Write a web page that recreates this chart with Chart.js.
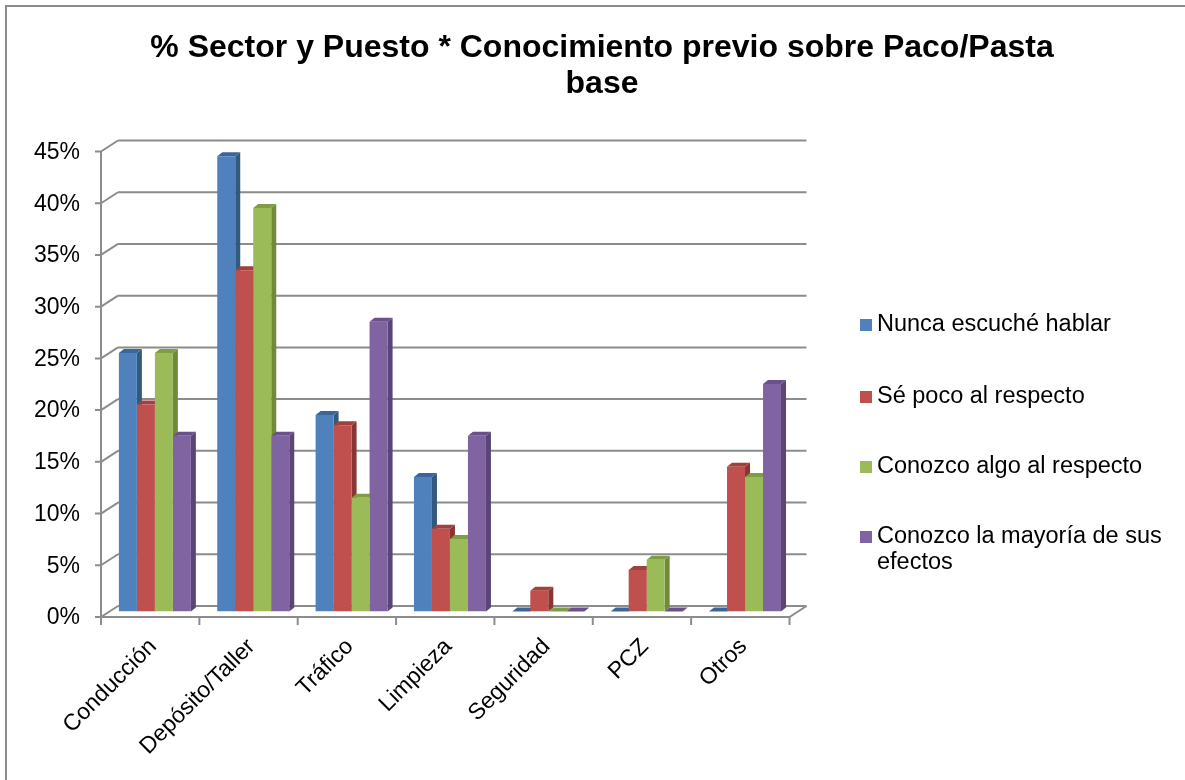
<!DOCTYPE html>
<html>
<head>
<meta charset="utf-8">
<script src="https://cdn.jsdelivr.net/npm/chart.js@4/dist/chart.umd.min.js"></script>
<style>
  html, body { margin: 0; padding: 0; background: #fff; }
  #wrap { position: relative; width: 1185px; height: 780px; }
</style>
</head>
<body>
<div id="wrap"><canvas id="chart" width="1185" height="780"></canvas></div>
<script>
const sectores = ['Conducción', 'Depósito/Taller', 'Tráfico', 'Limpieza', 'Seguridad', 'PCZ', 'Otros'];
const nuncaEscuche = [25, 44, 19, 13, 0, 0, 0];
const sePoco = [20, 33, 18, 8, 2, 4, 14];
const conozcoAlgo = [25, 39, 11, 7, 0, 5, 13];
const conozcoMayoria = [17, 17, 28, 17, 0, 0, 22];
const yTicks = [0, 5, 10, 15, 20, 25, 30, 35, 40, 45];

const series = [
  { label: 'Nunca escuché hablar', data: nuncaEscuche, front: '#4F81BD', side: '#34597F', top: '#3C6699' },
  { label: 'Sé poco al respecto', data: sePoco, front: '#C0504D', side: '#8A3533', top: '#A2403D' },
  { label: 'Conozco algo al respecto', data: conozcoAlgo, front: '#9BBB59', side: '#6E8A3A', top: '#7F9D45' },
  { label: 'Conozco la mayoría de sus efectos', data: conozcoMayoria, front: '#8064A2', side: '#594677', top: '#6A5189' }
];

const FONT = 'Arial, "Liberation Sans", sans-serif';
const GRID = '#8C8C8C';
// projection of the walls relative to the plane the bar fronts sit in
const FRONT = { dx: -4.7, dy: 5.5 };
const BACK = { dx: 12.3, dy: -5.5 };
const BAR_DEPTH = { dx: 5, dy: -4 };

const wallsPlugin = {
  id: 'walls',
  beforeDatasetsDraw(chart) {
    const { ctx, chartArea: a, scales: { x, y } } = chart;
    ctx.save();
    ctx.strokeStyle = GRID;
    ctx.lineWidth = 2;
    const fl = a.left + FRONT.dx, fr = a.right + FRONT.dx;
    const bl = a.left + BACK.dx, br = a.right + BACK.dx;

    // back wall gridlines + left wall diagonals + tick marks
    yTicks.forEach((t) => {
      const py = y.getPixelForValue(t);
      ctx.beginPath();
      ctx.moveTo(bl, py + BACK.dy);
      ctx.lineTo(br, py + BACK.dy);
      ctx.moveTo(fl, py + FRONT.dy);
      ctx.lineTo(bl, py + BACK.dy);
      ctx.moveTo(fl - 6, py + FRONT.dy);
      ctx.lineTo(fl, py + FRONT.dy);
      ctx.stroke();
    });

    // front vertical axis
    const y0 = y.getPixelForValue(0), yTop = y.getPixelForValue(45);
    ctx.beginPath();
    ctx.moveTo(fl, yTop + FRONT.dy);
    ctx.lineTo(fl, y0 + FRONT.dy);
    ctx.stroke();

    // floor: front edge and right diagonal
    ctx.beginPath();
    ctx.moveTo(fl, y0 + FRONT.dy);
    ctx.lineTo(fr, y0 + FRONT.dy);
    ctx.lineTo(br, y0 + BACK.dy);
    ctx.stroke();

    // category tick marks on the front floor edge
    const step = (a.right - a.left) / sectores.length;
    for (let i = 0; i <= sectores.length; i++) {
      const px = fl + i * step;
      ctx.beginPath();
      ctx.moveTo(px, y0 + FRONT.dy);
      ctx.lineTo(px, y0 + FRONT.dy + 8);
      ctx.stroke();
    }

    // y tick labels
    ctx.fillStyle = '#000';
    ctx.font = '23px ' + FONT;
    ctx.textAlign = 'right';
    ctx.textBaseline = 'middle';
    yTicks.forEach((t) => {
      ctx.fillText(t + '%', fl - 21, y.getPixelForValue(t) + FRONT.dy + 1);
    });

    // rotated category labels
    ctx.font = '23px ' + FONT;
    sectores.forEach((s, i) => {
      const px = x.getPixelForValue(i) + FRONT.dx + 3;
      ctx.save();
      ctx.translate(px, y0 + FRONT.dy + 26);
      ctx.rotate(-Math.PI / 4);
      ctx.textAlign = 'right';
      ctx.textBaseline = 'middle';
      ctx.fillText(s, 0, 0);
      ctx.restore();
    });

    // sides and tops of the bars, left to right so the fronts overlap correctly
    sectores.forEach((_, i) => {
      series.forEach((s, d) => {
        const bar = chart.getDatasetMeta(d).data[i];
        const half = bar.width / 2;
        const l = bar.x - half, r = bar.x + half;
        const top = bar.y, base = bar.base;
        ctx.fillStyle = s.side;
        ctx.beginPath();
        ctx.moveTo(r, base);
        ctx.lineTo(r + BAR_DEPTH.dx, base + BAR_DEPTH.dy);
        ctx.lineTo(r + BAR_DEPTH.dx, top + BAR_DEPTH.dy);
        ctx.lineTo(r, top);
        ctx.closePath();
        ctx.fill();
        ctx.fillStyle = s.top;
        ctx.beginPath();
        ctx.moveTo(l, top);
        ctx.lineTo(l + BAR_DEPTH.dx, top + BAR_DEPTH.dy);
        ctx.lineTo(r + BAR_DEPTH.dx, top + BAR_DEPTH.dy);
        ctx.lineTo(r, top);
        ctx.closePath();
        ctx.fill();
      });
    });
    ctx.restore();
  },
  afterDraw(chart) {
    const { ctx } = chart;
    ctx.save();
    // outer frame
    ctx.strokeStyle = '#8C8C8C';
    ctx.lineWidth = 2;
    ctx.strokeRect(6, 6, 1200, 800);

    // title, squeezed a little to the usual Excel width
    ctx.fillStyle = '#000';
    ctx.font = 'bold 32px ' + FONT;
    ctx.textAlign = 'center';
    ctx.textBaseline = 'middle';
    const line1 = '% Sector y Puesto * Conocimiento previo sobre Paco/Pasta';
    const sx = Math.min(1, 905 / ctx.measureText(line1).width);
    ctx.save();
    ctx.translate(602, 0);
    ctx.scale(sx, 1);
    ctx.fillText(line1, 0, 48);
    ctx.fillText('base', 0, 84);
    ctx.restore();

    // legend
    ctx.font = '23.5px ' + FONT;
    ctx.textAlign = 'left';
    const rows = [325, 397, 467, 537];
    series.forEach((s, d) => {
      ctx.fillStyle = s.front;
      ctx.fillRect(860, rows[d] - 6, 12, 12);
      ctx.fillStyle = '#000';
      if (d === 3) {
        ctx.fillText('Conozco la mayoría de sus', 877, rows[d]);
        ctx.fillText('efectos', 877, rows[d] + 26);
      } else {
        ctx.fillText(s.label, 877, rows[d]);
      }
    });
    ctx.restore();
  }
};

new Chart(document.getElementById('chart'), {
  type: 'bar',
  data: {
    labels: sectores,
    datasets: series.map((s) => ({
      label: s.label,
      data: s.data,
      backgroundColor: s.front,
      borderWidth: 0,
      categoryPercentage: 0.732,
      barPercentage: 1
    }))
  },
  options: {
    responsive: false,
    animation: false,
    events: [],
    layout: { padding: { left: 105.7, right: 1185 - 794.2, top: 146, bottom: 780 - 611.5 } },
    plugins: { legend: { display: false }, tooltip: { enabled: false }, title: { display: false } },
    scales: {
      x: { display: false },
      y: { display: false, min: 0, max: 45, ticks: { stepSize: 5 } }
    }
  },
  plugins: [wallsPlugin]
});
</script>
</body>
</html>
